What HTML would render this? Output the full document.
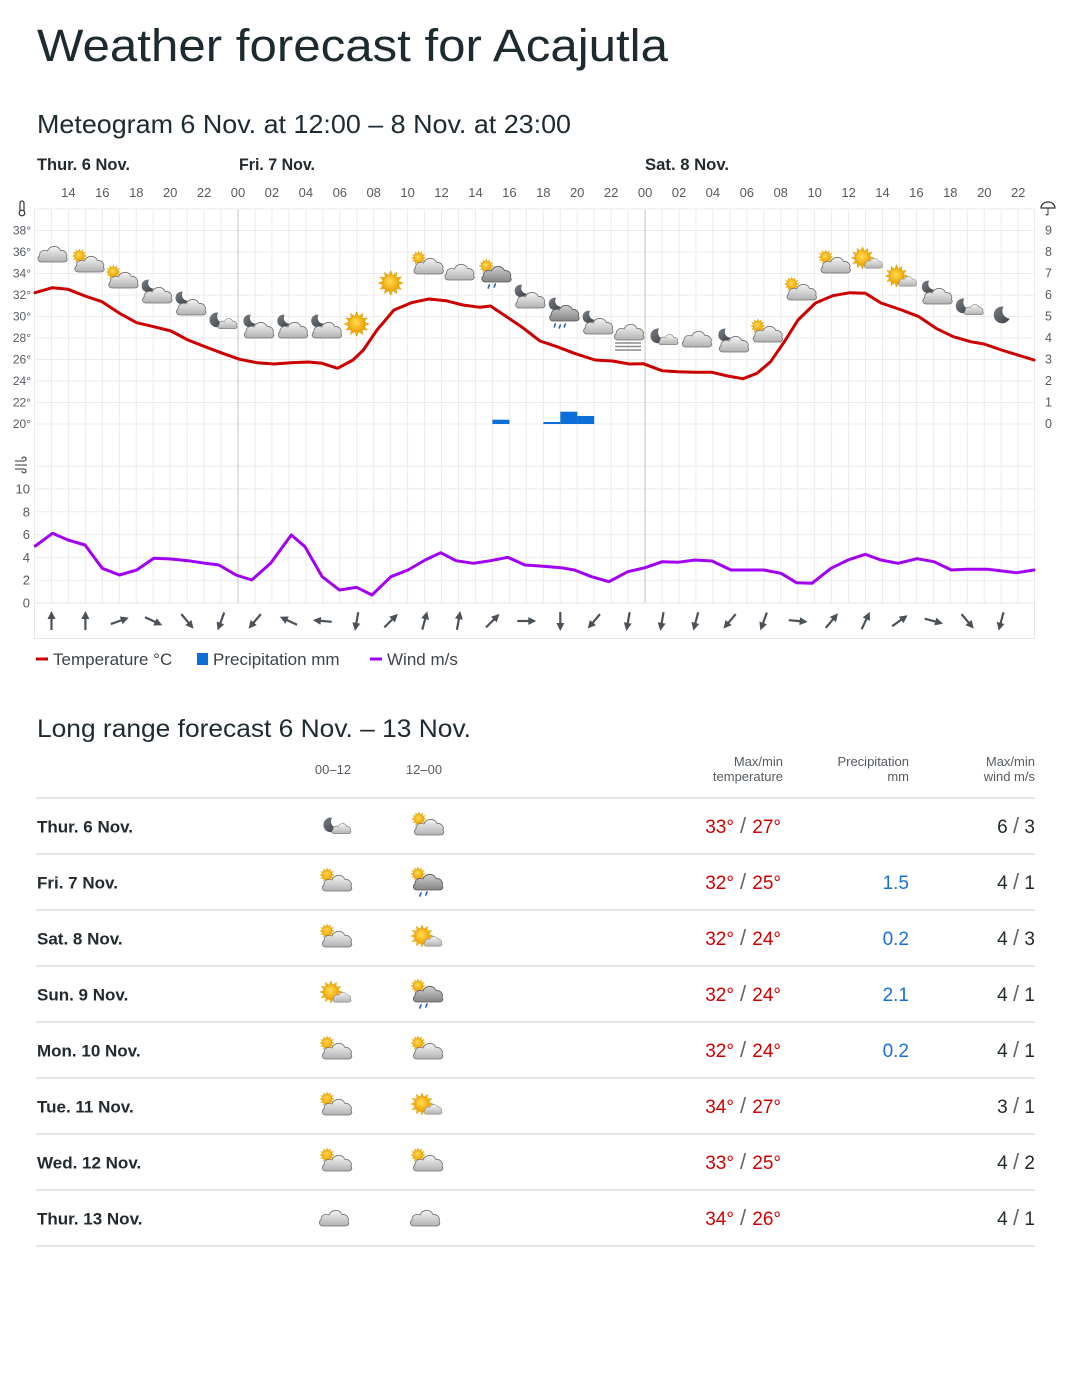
<!DOCTYPE html>
<html><head><meta charset="utf-8"><style>
html,body{margin:0;padding:0;background:#fff;}
svg{display:block;font-family:"Liberation Sans",sans-serif;}
</style></head><body>
<svg width="1080" height="1379" viewBox="0 0 1080 1379" xmlns="http://www.w3.org/2000/svg">
<defs>
<linearGradient id="gc" x1="0" y1="0" x2="0" y2="1"><stop offset="0" stop-color="#f4f4f4"/><stop offset="1" stop-color="#b2b2b2"/></linearGradient>
<linearGradient id="gd" x1="0" y1="0" x2="0" y2="1"><stop offset="0" stop-color="#cfcfcf"/><stop offset="1" stop-color="#858585"/></linearGradient>
<radialGradient id="gs" cx="0.45" cy="0.4" r="0.6"><stop offset="0" stop-color="#ffdc55"/><stop offset="1" stop-color="#f0a400"/></radialGradient>
<linearGradient id="gm" x1="0" y1="0" x2="1" y2="1"><stop offset="0" stop-color="#7a8086"/><stop offset="1" stop-color="#3c4146"/></linearGradient>
<path id="cp" d="M5,18 C1.5,18 0,14 3,12 C2.5,7.5 7.5,5 11,7 C13,1.5 21.5,0.5 24,6.5 C28.5,6 31.5,10 30,13.5 C32,15.5 30,18 27,18 Z"/>
<g id="cl"><use href="#cp" fill="url(#gc)" stroke="#6f6f6f" stroke-width="0.8"/></g>
<g id="cld"><use href="#cp" fill="url(#gd)" stroke="#555" stroke-width="0.8"/></g>
<g id="sun"><polygon points="0,-8 1.29,-4.83 4,-6.93 3.54,-3.54 6.93,-4 4.83,-1.29 8,0 4.83,1.29 6.93,4 3.54,3.54 4,6.93 1.29,4.83 0,8 -1.29,4.83 -4,6.93 -3.54,3.54 -6.93,4 -4.83,1.29 -8,0 -4.83,-1.29 -6.93,-4 -3.54,-3.54 -4,-6.93 -1.29,-4.83" fill="#f6b40e" stroke="#d08f00" stroke-width="0.3"/><circle r="5.2" fill="url(#gs)" stroke="#e39b00" stroke-width="0.4"/></g>
<path id="moon" d="M2,-7 A7,7 0 1 0 7,3 A6.5,6.5 0 0 1 2,-7 Z" fill="url(#gm)"/>
<g id="iC"><use href="#cl" transform="translate(-15,-10)"/></g>
<g id="iSC"><use href="#sun" transform="translate(-6,-4) scale(.9)"/><use href="#cl" transform="translate(-12,-6)"/></g>
<g id="iMC"><use href="#moon" transform="translate(-6,-5) scale(.9)"/><use href="#cl" transform="translate(-12,-6)"/></g>
<g id="iS"><use href="#sun" transform="scale(1.55)"/></g>
<g id="iSCR"><use href="#sun" transform="translate(-6,-6) scale(.9)"/><use href="#cld" transform="translate(-12,-8)"/><path d="M-3,13 l-1.2,3 M3,12 l-1.2,3" stroke="#1f5fb5" stroke-width="1.6" stroke-linecap="round"/></g>
<g id="iMCR"><use href="#moon" transform="translate(-6,-7) scale(.9)"/><use href="#cld" transform="translate(-12,-8)"/><path d="M-5,13 l-1,3 M0,14 l-1,3 M5,13 l-1,3" stroke="#1f5fb5" stroke-width="1.5" stroke-linecap="round"/></g>
<g id="iF"><use href="#cl" transform="translate(-15,-13)"/><path d="M-13,8 H13 M-13,11.5 H13 M-13,15 H13" stroke="#8a8a8a" stroke-width="1.5"/></g>
<g id="iMCs"><use href="#moon" transform="translate(-5,-1) scale(1.05)"/><use href="#cl" transform="translate(-4,-4) scale(.65)"/></g>
<g id="iSsc"><use href="#sun" transform="translate(-3,-2) scale(1.4)"/><use href="#cl" transform="translate(-2,-3) scale(.62)"/></g>
<g id="iM"><use href="#moon" transform="scale(1.2)"/></g>
<g id="arw"><path d="M0,9 V-3" stroke="#4b5159" stroke-width="2.2"/><polygon points="0,-10 -4,-2 4,-2" fill="#4b5159"/></g>
</defs>

<text x="37" y="61" font-size="45" fill="#1d2a30" textLength="631" lengthAdjust="spacingAndGlyphs">Weather forecast for Acajutla</text>
<text x="37" y="133" font-size="26" fill="#1d2a30" textLength="534" lengthAdjust="spacingAndGlyphs">Meteogram 6 Nov. at 12:00 – 8 Nov. at 23:00</text>

<g font-size="17" font-weight="600" fill="#222a2e">
<text x="37" y="170" textLength="93" lengthAdjust="spacingAndGlyphs">Thur. 6 Nov.</text>
<text x="239" y="170" textLength="76" lengthAdjust="spacingAndGlyphs">Fri. 7 Nov.</text>
<text x="645" y="170" textLength="84" lengthAdjust="spacingAndGlyphs">Sat. 8 Nov.</text>
</g>

<g font-size="13" fill="#555b61" text-anchor="middle">
<text x="68.4" y="197">14</text><text x="102.3" y="197">16</text><text x="136.3" y="197">18</text><text x="170.2" y="197">20</text><text x="204.1" y="197">22</text><text x="238" y="197">00</text><text x="271.9" y="197">02</text><text x="305.9" y="197">04</text><text x="339.8" y="197">06</text><text x="373.7" y="197">08</text><text x="407.6" y="197">10</text><text x="441.5" y="197">12</text><text x="475.5" y="197">14</text><text x="509.4" y="197">16</text><text x="543.3" y="197">18</text><text x="577.2" y="197">20</text><text x="611.1" y="197">22</text><text x="645.1" y="197">00</text><text x="679" y="197">02</text><text x="712.9" y="197">04</text><text x="746.8" y="197">06</text><text x="780.7" y="197">08</text><text x="814.7" y="197">10</text><text x="848.6" y="197">12</text><text x="882.5" y="197">14</text><text x="916.4" y="197">16</text><text x="950.3" y="197">18</text><text x="984.3" y="197">20</text><text x="1018.2" y="197">22</text>
</g>

<path fill="none" stroke="#ebebeb" stroke-width="1" d="M34.5,209V603 M51.46,209V603 M68.42,209V603 M85.38,209V603 M102.34,209V603 M119.3,209V603 M136.26,209V603 M153.22,209V603 M170.18,209V603 M187.14,209V603 M204.1,209V603 M221.06,209V603 M254.98,209V603 M271.94,209V603 M288.9,209V603 M305.86,209V603 M322.82,209V603 M339.78,209V603 M356.74,209V603 M373.7,209V603 M390.66,209V603 M407.62,209V603 M424.58,209V603 M441.54,209V603 M458.5,209V603 M475.46,209V603 M492.42,209V603 M509.38,209V603 M526.34,209V603 M543.3,209V603 M560.26,209V603 M577.22,209V603 M594.18,209V603 M611.14,209V603 M628.1,209V603 M662.02,209V603 M678.98,209V603 M695.94,209V603 M712.9,209V603 M729.86,209V603 M746.82,209V603 M763.78,209V603 M780.74,209V603 M797.7,209V603 M814.66,209V603 M831.62,209V603 M848.58,209V603 M865.54,209V603 M882.5,209V603 M899.46,209V603 M916.42,209V603 M933.38,209V603 M950.34,209V603 M967.3,209V603 M984.26,209V603 M1001.22,209V603 M1018.18,209V603 M1034.5,209V603
M34.5,209H1034.5 M34.5,230.5H1034.5 M34.5,252H1034.5 M34.5,273.5H1034.5 M34.5,295H1034.5 M34.5,316.5H1034.5 M34.5,338H1034.5 M34.5,359.5H1034.5 M34.5,381H1034.5 M34.5,402.5H1034.5 M34.5,424H1034.5
M34.5,466.2H1034.5 M34.5,489H1034.5 M34.5,511.8H1034.5 M34.5,534.6H1034.5 M34.5,557.4H1034.5 M34.5,580.2H1034.5 M34.5,603H1034.5"/>
<path d="M238,209V603 M645.06,209V603" stroke="#c4c4c4" stroke-width="1"/>
<rect x="34.5" y="603" width="1000" height="35.5" fill="none" stroke="#e6e6e6" stroke-width="1"/>

<g font-size="12" fill="#555b61" text-anchor="end">
<text x="31" y="234.5">38°</text><text x="31" y="256">36°</text><text x="31" y="277.5">34°</text><text x="31" y="299">32°</text><text x="31" y="320.5">30°</text><text x="31" y="342">28°</text><text x="31" y="363.5">26°</text><text x="31" y="385">24°</text><text x="31" y="406.5">22°</text><text x="31" y="428">20°</text>
<text x="30" y="493.5" font-size="13">10</text><text x="30" y="516.3" font-size="13">8</text><text x="30" y="539.1" font-size="13">6</text><text x="30" y="561.9" font-size="13">4</text><text x="30" y="584.7" font-size="13">2</text><text x="30" y="607.5" font-size="13">0</text>
</g>
<g font-size="12.5" fill="#555b61">
<text x="1045" y="234.5">9</text><text x="1045" y="256">8</text><text x="1045" y="277.5">7</text><text x="1045" y="299">6</text><text x="1045" y="320.5">5</text><text x="1045" y="342">4</text><text x="1045" y="363.5">3</text><text x="1045" y="385">2</text><text x="1045" y="406.5">1</text><text x="1045" y="428">0</text>
</g>

<g fill="none" stroke="#333" stroke-width="1.2">
<rect x="20" y="201" width="4" height="11" rx="2" fill="#fff"/>
<circle cx="22" cy="213" r="2.8" fill="#fff"/>
<path d="M1041,208 A7,6 0 0 1 1055,208 Z"/>
<path d="M1048,208 V214 a1,1 0 0 1 -2,0" stroke-width="1"/>
<path d="M15,461 H24 a2,2 0 1 0 -2,-2 M15,465 H27 M15,469 H24 a2,2 0 1 1 -2,2" stroke-width="1.1"/>
</g>

<g fill="#0b6fd8">
<rect x="492.4" y="419.7" width="17" height="4.3"/>
<rect x="543.3" y="422" width="17" height="2"/>
<rect x="560.3" y="411.7" width="17" height="12.3"/>
<rect x="577.2" y="416" width="17" height="8"/>
</g>

<use href="#iC" transform="translate(51.5,254)"/>
<use href="#iSC" transform="translate(85.4,260)"/>
<use href="#iSC" transform="translate(119.3,276)"/>
<use href="#iMC" transform="translate(153.2,291)"/>
<use href="#iMC" transform="translate(187.1,303)"/>
<use href="#iMCs" transform="translate(221.1,321)"/>
<use href="#iMC" transform="translate(255,326)"/>
<use href="#iMC" transform="translate(288.9,326)"/>
<use href="#iMC" transform="translate(322.8,326)"/>
<use href="#iS" transform="translate(356.7,324)"/>
<use href="#iS" transform="translate(390.7,283)"/>
<use href="#iSC" transform="translate(424.6,262)"/>
<use href="#iC" transform="translate(458.5,272)"/>
<use href="#iSCR" transform="translate(492.4,272)"/>
<use href="#iMC" transform="translate(526.3,296)"/>
<use href="#iMCR" transform="translate(560.3,311)"/>
<use href="#iMC" transform="translate(594.2,322)"/>
<use href="#iF" transform="translate(628.1,335)"/>
<use href="#iMCs" transform="translate(662,337)"/>
<use href="#iC" transform="translate(695.9,339)"/>
<use href="#iMC" transform="translate(729.9,340)"/>
<use href="#iSC" transform="translate(763.8,330)"/>
<use href="#iSC" transform="translate(797.7,288)"/>
<use href="#iSC" transform="translate(831.6,261)"/>
<use href="#iSsc" transform="translate(865.5,260)"/>
<use href="#iSsc" transform="translate(899.5,278)"/>
<use href="#iMC" transform="translate(933.4,292)"/>
<use href="#iMCs" transform="translate(967.3,307)"/>
<use href="#iM" transform="translate(1001.2,315)"/>

<polyline fill="none" stroke="#cc0000" stroke-width="3" stroke-linejoin="round" stroke-linecap="round" points="35,292.7 52.5,287.7 68,289.3 85,296 102,301.7 119.5,313.3 136.7,322.7 153.8,326.7 171,331 188,340 205,346.7 222.6,353.3 239.7,359.3 257,362.7 274,364 291,362.7 308.5,362 322,363.3 337.6,368.3 353,360 363.4,350 377,330 394,310 411.5,302.7 428.7,299 445.8,300.7 463,305 480,307.3 490.5,306 504,315 521.4,326.7 540,341 557,346.7 574.4,353.3 595,360 612.4,361 629.5,364 643.3,363.7 662,370.7 677.7,371.7 695,372.3 712,372.3 727.6,376 743,378.7 757,373.3 770.6,361.7 784.4,341.7 798,320 815.5,303 832.7,295.7 850,292.7 865.5,293.3 881,303 901.6,310 919,316.7 936,328.3 953.3,336.7 970.5,341.7 984,344 1001.5,350 1034,360"/>

<polyline fill="none" stroke="#a100f2" stroke-width="3" stroke-linejoin="round" stroke-linecap="round" points="35.3,546 52.5,533.3 68,540 85,545 102.3,568.3 119.5,575 136.7,570 153.8,558.3 171,559 188.2,560.7 205.4,563.3 219,565 236,575 251.7,580 270.6,563.3 291.3,535 305,546.7 322.2,576.7 339.4,590 356.5,587.3 372,595 390.9,576.7 408,570 425.2,560 440.7,552.7 456,560.7 473.3,563.3 490.5,560.7 507.7,557.3 524.9,565 540,566 560.7,567.7 574.4,570 591.6,576.7 608.9,581.7 627.8,571.7 645,567.7 662.2,561.7 677.7,562.3 695,560 712,561 731,570 746.5,570 763.8,570 781,573.3 796.5,582.7 812,583.3 831,568.3 848,560 865.3,554.3 880.8,560 898,563.3 917,558.7 934,561.7 951.4,570 967,569.3 987.5,569.3 1016.8,572.7 1034,570"/>

<use href="#arw" transform="translate(51.5,621) rotate(0)"/>
<use href="#arw" transform="translate(85.4,621) rotate(0)"/>
<use href="#arw" transform="translate(119.3,621) rotate(70)"/>
<use href="#arw" transform="translate(153.2,621) rotate(115)"/>
<use href="#arw" transform="translate(187.1,621) rotate(140)"/>
<use href="#arw" transform="translate(221.1,621) rotate(200)"/>
<use href="#arw" transform="translate(255,621) rotate(220)"/>
<use href="#arw" transform="translate(288.9,621) rotate(295)"/>
<use href="#arw" transform="translate(322.8,621) rotate(275)"/>
<use href="#arw" transform="translate(356.7,621) rotate(190)"/>
<use href="#arw" transform="translate(390.7,621) rotate(45)"/>
<use href="#arw" transform="translate(424.6,621) rotate(15)"/>
<use href="#arw" transform="translate(458.5,621) rotate(10)"/>
<use href="#arw" transform="translate(492.4,621) rotate(45)"/>
<use href="#arw" transform="translate(526.3,621) rotate(90)"/>
<use href="#arw" transform="translate(560.3,621) rotate(180)"/>
<use href="#arw" transform="translate(594.2,621) rotate(220)"/>
<use href="#arw" transform="translate(628.1,621) rotate(190)"/>
<use href="#arw" transform="translate(662,621) rotate(190)"/>
<use href="#arw" transform="translate(695.9,621) rotate(195)"/>
<use href="#arw" transform="translate(729.9,621) rotate(220)"/>
<use href="#arw" transform="translate(763.8,621) rotate(200)"/>
<use href="#arw" transform="translate(797.7,621) rotate(95)"/>
<use href="#arw" transform="translate(831.6,621) rotate(40)"/>
<use href="#arw" transform="translate(865.5,621) rotate(25)"/>
<use href="#arw" transform="translate(899.5,621) rotate(55)"/>
<use href="#arw" transform="translate(933.4,621) rotate(105)"/>
<use href="#arw" transform="translate(967.3,621) rotate(140)"/>
<use href="#arw" transform="translate(1001.2,621) rotate(195)"/>

<rect x="36" y="657.5" width="12" height="3" fill="#cc0000"/>
<text x="53" y="665" font-size="17" fill="#3d4349">Temperature °C</text>
<rect x="197" y="653" width="11" height="12" fill="#0b6fd8"/>
<text x="213" y="665" font-size="17" fill="#3d4349">Precipitation mm</text>
<rect x="370" y="657.5" width="12" height="3" fill="#a100f2"/>
<text x="387" y="665" font-size="17" fill="#3d4349">Wind m/s</text>

<text x="37" y="737" font-size="25" fill="#1d2a30" textLength="434" lengthAdjust="spacingAndGlyphs">Long range forecast 6 Nov. – 13 Nov.</text>
<g font-size="13" fill="#555b61">
<text x="333" y="774" text-anchor="middle">00–12</text>
<text x="424" y="774" text-anchor="middle">12–00</text>
<text x="783" y="766" text-anchor="end">Max/min</text>
<text x="783" y="781" text-anchor="end">temperature</text>
<text x="909" y="766" text-anchor="end">Precipitation</text>
<text x="909" y="781" text-anchor="end">mm</text>
<text x="1035" y="766" text-anchor="end">Max/min</text>
<text x="1035" y="781" text-anchor="end">wind m/s</text>
</g>
<path d="M36,798H1035 M36,854H1035 M36,910H1035 M36,966H1035 M36,1022H1035 M36,1078H1035 M36,1134H1035 M36,1190H1035 M36,1246H1035" stroke="#d8dde2" stroke-width="1.6"/>

<g font-size="17" font-weight="600" fill="#222a2e">
<text x="37" y="832.5">Thur. 6 Nov.</text>
<text x="37" y="888.5">Fri. 7 Nov.</text>
<text x="37" y="944.5">Sat. 8 Nov.</text>
<text x="37" y="1000.5">Sun. 9 Nov.</text>
<text x="37" y="1056.5">Mon. 10 Nov.</text>
<text x="37" y="1112.5">Tue. 11 Nov.</text>
<text x="37" y="1168.5">Wed. 12 Nov.</text>
<text x="37" y="1224.5">Thur. 13 Nov.</text>
</g>

<use href="#iMCs" transform="translate(335,826)"/>
<use href="#iSC" transform="translate(425,823)"/>
<use href="#iSC" transform="translate(333,879)"/>
<use href="#iSCR" transform="translate(424,880)"/>
<use href="#iSC" transform="translate(333,935)"/>
<use href="#iSsc" transform="translate(425,938)"/>
<use href="#iSsc" transform="translate(334,994)"/>
<use href="#iSCR" transform="translate(424,992)"/>
<use href="#iSC" transform="translate(333,1047)"/>
<use href="#iSC" transform="translate(424,1047)"/>
<use href="#iSC" transform="translate(333,1103)"/>
<use href="#iSsc" transform="translate(425,1106)"/>
<use href="#iSC" transform="translate(333,1159)"/>
<use href="#iSC" transform="translate(424,1159)"/>
<use href="#iC" transform="translate(333,1218)"/>
<use href="#iC" transform="translate(424,1218)"/>

<g font-size="19" text-anchor="end">
<text x="781" y="833"><tspan fill="#d40000">33°</tspan><tspan fill="#666" font-size="22"> / </tspan><tspan fill="#d40000">27°</tspan></text>
<text x="781" y="889"><tspan fill="#d40000">32°</tspan><tspan fill="#666" font-size="22"> / </tspan><tspan fill="#d40000">25°</tspan></text>
<text x="781" y="945"><tspan fill="#d40000">32°</tspan><tspan fill="#666" font-size="22"> / </tspan><tspan fill="#d40000">24°</tspan></text>
<text x="781" y="1001"><tspan fill="#d40000">32°</tspan><tspan fill="#666" font-size="22"> / </tspan><tspan fill="#d40000">24°</tspan></text>
<text x="781" y="1057"><tspan fill="#d40000">32°</tspan><tspan fill="#666" font-size="22"> / </tspan><tspan fill="#d40000">24°</tspan></text>
<text x="781" y="1113"><tspan fill="#d40000">34°</tspan><tspan fill="#666" font-size="22"> / </tspan><tspan fill="#d40000">27°</tspan></text>
<text x="781" y="1169"><tspan fill="#d40000">33°</tspan><tspan fill="#666" font-size="22"> / </tspan><tspan fill="#d40000">25°</tspan></text>
<text x="781" y="1225"><tspan fill="#d40000">34°</tspan><tspan fill="#666" font-size="22"> / </tspan><tspan fill="#d40000">26°</tspan></text>
</g>
<g font-size="19" text-anchor="end" fill="#1a6fd6">
<text x="909" y="889">1.5</text>
<text x="909" y="945">0.2</text>
<text x="909" y="1001">2.1</text>
<text x="909" y="1057">0.2</text>
</g>
<g font-size="19" text-anchor="end" fill="#222a2e">
<text x="1035" y="833">6 <tspan fill="#666" font-size="22">/</tspan> 3</text>
<text x="1035" y="889">4 <tspan fill="#666" font-size="22">/</tspan> 1</text>
<text x="1035" y="945">4 <tspan fill="#666" font-size="22">/</tspan> 3</text>
<text x="1035" y="1001">4 <tspan fill="#666" font-size="22">/</tspan> 1</text>
<text x="1035" y="1057">4 <tspan fill="#666" font-size="22">/</tspan> 1</text>
<text x="1035" y="1113">3 <tspan fill="#666" font-size="22">/</tspan> 1</text>
<text x="1035" y="1169">4 <tspan fill="#666" font-size="22">/</tspan> 2</text>
<text x="1035" y="1225">4 <tspan fill="#666" font-size="22">/</tspan> 1</text>
</g>
</svg>
</body></html>
